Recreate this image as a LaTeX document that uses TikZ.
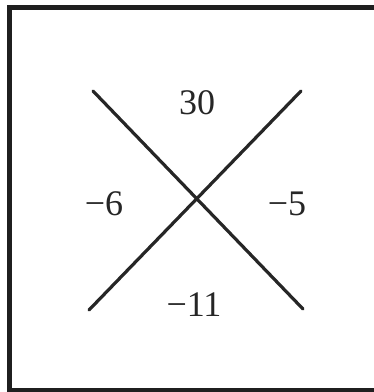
\documentclass[tikz,border=0pt]{standalone}
\usepackage{fontspec}
\setmainfont{Liberation Serif}
\begin{document}
\begin{tikzpicture}[x=1pt,y=-1pt,
  frame/.style={line width=5pt,draw=black!88},
  cross/.style={line width=3.2pt,draw=black!85,line cap=round},
  num/.style={inner sep=0pt,font=\fontsize{36}{40}\selectfont,text=black!85}]
\useasboundingbox (0,0) rectangle (374,392);
\fill[white] (0,0) rectangle (374,392);
% frame
\coordinate (tl) at (9.5,7.5);
\coordinate (tr) at (374,7.5);
\coordinate (bl) at (9.5,390);
\coordinate (br) at (374,390);
\draw[frame] (tr) -- (tl) -- (bl) -- (br);
% cross
\coordinate (a1) at (93,91);
\coordinate (a2) at (303,309);
\coordinate (b1) at (89,310);
\coordinate (b2) at (301,91);
\draw[cross] (a1) -- (a2);
\draw[cross] (b1) -- (b2);
% labels
\node[num] (top) at (197,103) {30};
\node[num] (left) at (104,204) {−6};
\node[num] (right) at (287,204) {−5};
\node[num] (bottom) at (194,305) {−11};
\end{tikzpicture}
\end{document}
